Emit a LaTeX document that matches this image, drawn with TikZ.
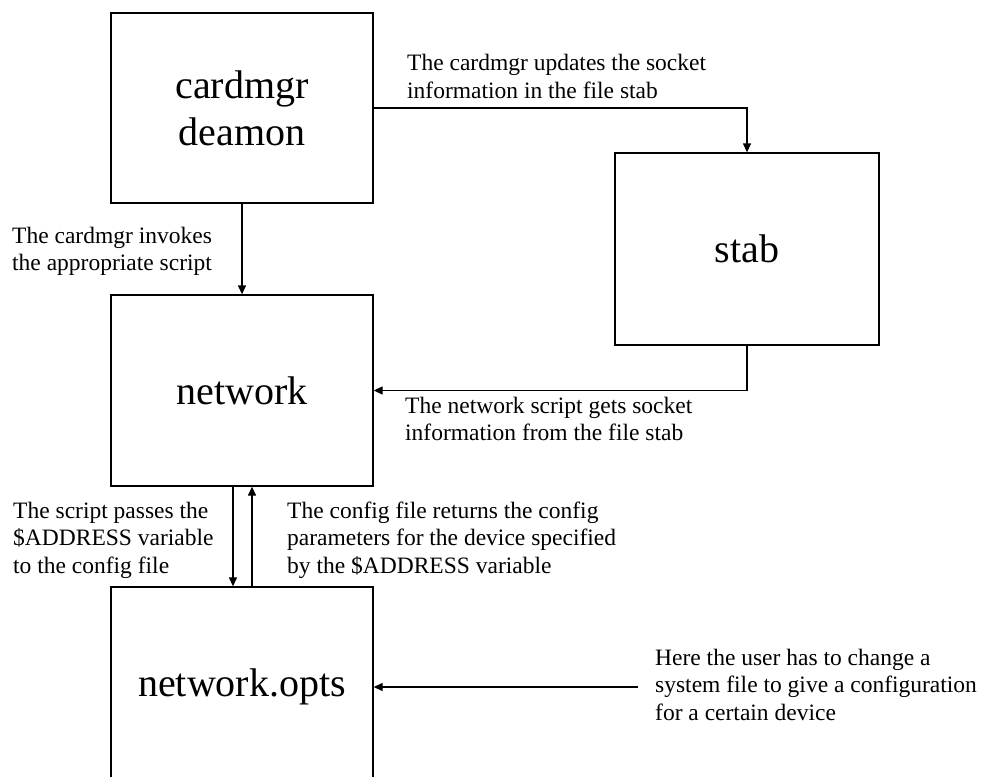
\documentclass[tikz,border=0pt]{standalone}
\usepackage{fontspec}
\setmainfont{Liberation Serif}
\usetikzlibrary{arrows.meta}

\tikzset{
  box/.style={draw, line width=1.3pt, rectangle, inner sep=0pt,
    minimum width=262pt, font=\fontsize{40}{47}\selectfont, align=center},
  link/.style={line width=1.3pt, -{Triangle[length=9pt,width=8pt]}},
  note/.style={anchor=base west, inner sep=0pt,
    font=\fontsize{23.5}{27.5}\selectfont}
}
\newcommand{\notelines}[1]{\begin{tabular}[t]{@{}l@{}}#1\end{tabular}}

\begin{document}
\begin{tikzpicture}[x=1pt,y=-1pt]
  \useasboundingbox (0,0) rectangle (981,776);
  \clip (0,0) rectangle (981,776);

  % boxes
  \node[box, minimum height=190pt] (cardmgr) at (242,108) {cardmgr\\deamon};
  \node[box, minimum height=191pt] (network) at (242,390.5) {network};
  \node[box, minimum height=200pt] (opts) at (242,687) {network.opts};
  \node[box, minimum width=264pt, minimum height=192pt] (stab) at (747,249) {stab};

  % connectors
  \draw[link] (cardmgr) -- (network);
  \draw[link] (cardmgr.east) -| (stab.north);
  \draw[link] (stab.south) |- (network.east);
  \draw[link] ([xshift=-9pt]network.south) -- ([xshift=-9pt]opts.north);
  \draw[link] ([xshift=10pt]opts.north) -- ([xshift=10pt]network.south);
  \coordinate (user) at (638,687);
  \draw[link] (user) -- (opts.east);

  % notes
  \node[note] (n1) at (407,70.5) {\notelines{The cardmgr updates the socket\\information in the file stab}};
  \node[note] (n2) at (12,243) {\notelines{The cardmgr invokes\\the appropriate script}};
  \node[note] (n3) at (405,413) {\notelines{The network script gets socket\\information from the file stab}};
  \node[note] (n4) at (13,518) {\notelines{The script passes the\\\$ADDRESS variable\\to the config file}};
  \node[note] (n5) at (287,518) {\notelines{The config file returns the config\\parameters for the device specified\\by the \$ADDRESS variable}};
  \node[note] (n6) at (655,665) {\notelines{Here the user has to change a\\system file to give a configuration\\for a certain device}};
\end{tikzpicture}
\end{document}
